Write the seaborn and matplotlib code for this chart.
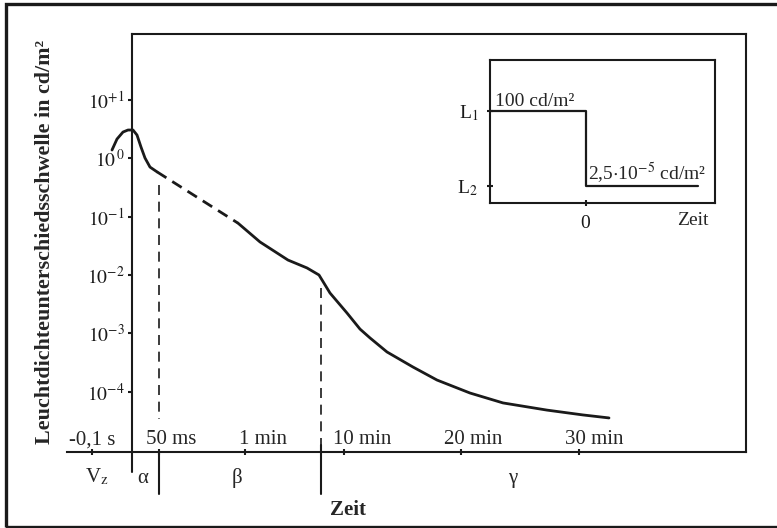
import numpy as np
import pandas as pd
import seaborn as sns
import matplotlib.pyplot as plt
from matplotlib.patches import Rectangle

# schematic (not to scale) time axis, 0 = moment the light is switched off
tick_pos = [-40, 27, 113, 212, 329, 447]
tick_labels = ['-0,1 s', '50 ms', '1 min', '10 min', '20 min', '30 min']
label_shift = [0, 9, 13, 13, 9, 11]   # the numbers sit over the ticks, not the whole label

# threshold curve (cd/m²)
early_t = [-20, -15, -9, -4, 1, 5, 9, 13, 18, 25]
early_L = [1.37, 2.11, 2.78, 3.01, 3.01, 2.47, 1.54, 1.0, 0.70, 0.58]
gap_t = [25, 106]
gap_L = [0.58, 0.077]
late_t = [106, 128, 156, 175, 187, 198, 215, 228, 238, 255, 281, 305, 338, 371, 415, 451, 477]
late_L = [0.077, 0.0367, 0.018, 0.0132, 0.0100, 0.00492, 0.00224, 0.00119, 0.00084,
          4.83e-4, 2.67e-4, 1.6e-4, 9.6e-5, 6.5e-5, 4.9e-5, 4.05e-5, 3.6e-5]

# phases
bound_t = [0, 27, 189]
phase_names = ['V$_\\mathrm{z}$', 'α', 'β', 'γ']
phase_t = [-35, 11, 105, 381]

ytick_vals = [1e1, 1e0, 1e-1, 1e-2, 1e-3, 1e-4]
ytick_labels = [r'$10^{+1}$', r'$10^{\,0}$', r'$10^{-1}$', r'$10^{-2}$', r'$10^{-3}$', r'$10^{-4}$']

# inset: luminance step
inset_t = [-1, 0, 1.18]
inset_L = [1, 0, 0]

sns.set_theme(style='white')
plt.rcParams['font.family'] = ['Liberation Serif', 'DejaVu Serif']
plt.rcParams['mathtext.fontset'] = 'stix'

fig = plt.figure(figsize=(7.77, 5.28), dpi=100)
W, H = 777, 528
ax = fig.add_axes([67 / W, 1 - 452 / H, (746 - 67) / W, (452 - 34) / H])

ylo, yhi = 10 ** -5.026, 10 ** 2.12
ax.set_yscale('log')
ax.set_xlim(-65, 614)
ax.set_ylim(ylo, yhi)

sns.lineplot(x=early_t, y=early_L, ax=ax, color='k', lw=2, sort=False, estimator=None)
sns.lineplot(x=gap_t, y=gap_L, ax=ax, color='k', lw=2, sort=False, estimator=None,
             linestyle=(0, (4, 2.5)))
sns.lineplot(x=late_t, y=late_L, ax=ax, color='k', lw=2, sort=False, estimator=None)

# spines
for s in ax.spines.values():
    s.set_linewidth(1.5)
    s.set_color('k')
ax.spines['left'].set_position(('data', 0))
ax.spines['top'].set_bounds(0, 614)

# phase boundaries
ax.plot([bound_t[0]] * 2, [ylo, 10 ** -5.37], color='k', lw=1.5, clip_on=False)
ax.plot([bound_t[1]] * 2, [0.35, 10 ** -4.47], color='k', lw=1.2, linestyle=(0, (6, 4)))
ax.plot([bound_t[1]] * 2, [ylo, 10 ** -5.75], color='k', lw=1.5, clip_on=False)
ax.plot([bound_t[2]] * 2, [10 ** -2.22, ylo], color='k', lw=1.2, linestyle=(0, (6, 4)))
ax.plot([bound_t[2]] * 2, [10 ** -4.9, 10 ** -5.75], color='k', lw=1.5, clip_on=False)

for name, t in zip(phase_names, phase_t):
    ax.annotate(name, xy=(t, 0), xycoords=('data', 'axes fraction'), xytext=(0, -22),
                textcoords='offset points', ha='center', va='baseline', fontsize=15)

# ticks
ax.set_yticks(ytick_vals, ytick_labels)
ax.yaxis.set_minor_locator(plt.NullLocator())
ax.tick_params(axis='y', direction='out', length=3, width=1.5, pad=2, labelsize=14,
               left=True, colors='k')
ax.set_xticks(tick_pos)
ax.tick_params(axis='x', direction='inout', length=5, width=1.5, labelbottom=False,
               bottom=True, colors='k')
for lab, t, dx in zip(tick_labels, tick_pos, label_shift):
    ax.annotate(lab, xy=(t, 0), xycoords=('data', 'axes fraction'), xytext=(dx, 5.5),
                textcoords='offset points', ha='center', va='baseline', fontsize=15)

fig.text(348 / W, 1 - 510 / H, 'Zeit', ha='center', va='center', fontsize=15, fontweight='bold')
fig.text(45 / W, 1 - 242 / H, 'Leuchtdichteunterschiedsschwelle in cd/m²', rotation=90,
         ha='center', va='center', fontsize=15.8, fontweight='bold')

# inset
ax_in = fig.add_axes([490 / W, 1 - 203 / H, 225 / W, 143 / H])
sns.lineplot(x=inset_t, y=inset_L, ax=ax_in, color='k', lw=1.6, sort=False, estimator=None,
             drawstyle='steps-post')
ax_in.set_xlim(-1, 1.354)
ax_in.set_ylim(-0.227, 1.68)
for s in ax_in.spines.values():
    s.set_linewidth(1.5)
    s.set_color('k')
ax_in.set_yticks([1, 0], [r'L$_1$', r'L$_2$'])
ax_in.set_xticks([0], ['0'])
ax_in.tick_params(direction='inout', length=5, width=1.5, labelsize=14, pad=6,
                  left=True, bottom=True, colors='k')
ax_in.text(-0.95, 1.07, '100 cd/m²', fontsize=14, ha='left', va='baseline')
ax_in.text(0.03, 0.08, r'2,5$\cdot$10$^{-5}$ cd/m²', fontsize=14, ha='left', va='baseline')
ax_in.annotate('Zeit', xy=(1.12, 0), xycoords=('data', 'axes fraction'), xytext=(0, -6.5),
               textcoords='offset points', ha='center', va='top', fontsize=14)

# outer frame (right side is cut off in the original)
fig.add_artist(Rectangle((5.5 / W, 1.2 / H), 1.1, 1 - 5.2 / H, transform=fig.transFigure,
                         fill=False, lw=2.4, edgecolor='k', clip_on=False))

fig.savefig('out.png', dpi=100)
